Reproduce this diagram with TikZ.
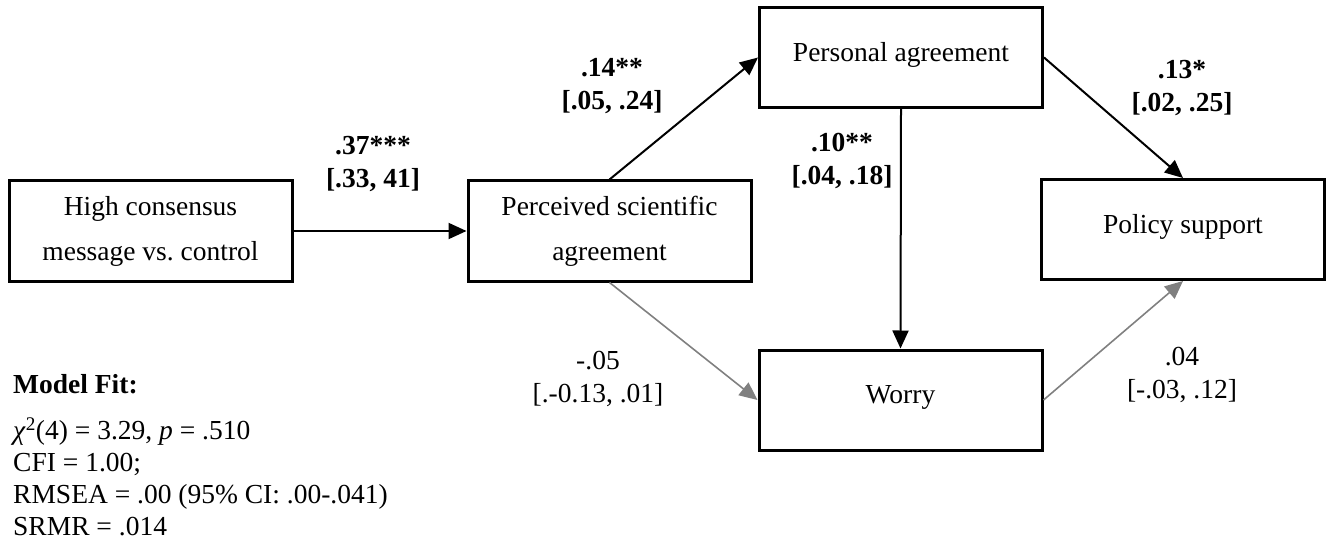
\documentclass[tikz,border=0pt]{standalone}
\usepackage{fontspec}
\setmainfont{Liberation Serif}
\usetikzlibrary{arrows.meta}
\definecolor{linegray}{RGB}{128,128,128}
\tikzset{
  box/.style={draw=black, line width=3pt, minimum width=283pt, minimum height=100pt, inner sep=0pt, align=center, font=\fontsize{27.5}{45}\selectfont},
  arr/.style={line width=2pt, draw=black, -{Triangle[length=18pt,width=16pt]}},
  garr/.style={line width=1.6pt, draw=linegray, -{Triangle[length=18pt,width=16pt]}},
  coef/.style={inner sep=0pt, align=center, anchor=base, font=\fontsize{27.5}{33}\selectfont\bfseries},
  ncoef/.style={inner sep=0pt, align=center, anchor=base, font=\fontsize{27.5}{33}\selectfont},
  fit/.style={inner sep=0pt, align=left, anchor=base west, font=\fontsize{27.5}{31.7}\selectfont},
}
\frenchspacing
\begin{document}
\begin{tikzpicture}[x=1pt,y=-1pt]
\useasboundingbox (0,0) rectangle (1327,540);
% boxes
\node[box] (hc) at (150.5,231) {High consensus\\message vs. control};
\node[box] (psa) at (609.5,231) {Perceived scientific\\agreement};
\node[box] (pa) at (901,57.5) {\raisebox{12pt}{Personal agreement}};
\node[box] (ps) at (1183,229.5) {\raisebox{12pt}{Policy support}};
\node[box] (wo) at (900.5,400) {\raisebox{12pt}{Worry}};
% connectors
\draw[arr] (hc.east) -- (psa.west);
\draw[arr] (psa.north) -- (pa.west);
\draw[arr] (pa.east) -- (ps.north);
\draw[arr] (pa.south) -- (wo.north);
\draw[garr] (psa.south) -- (wo.west);
\draw[garr] (wo.east) -- (ps.south);
% coefficients
\node[coef] (c1) at (373,188) {.37***\\{[.33, 41]}};
\node[coef] (c2) at (612,110) {.14**\\{[.05, .24]}};
\node[coef] (c3) at (842,185) {.10**\\{[.04, .18]}};
\node[coef] (c4) at (1182,112) {.13*\\{[.02, .25]}};
\node[ncoef] (c5) at (598,402) {-.05\\{[.-0.13, .01]}};
\node[ncoef] (c6) at (1182,398) {.04\\{[-.03, .12]}};
% model fit
\node[fit, font=\fontsize{27.5}{31.7}\selectfont\bfseries] (mft) at (13,393) {Model Fit:};
\node[fit] (mf) at (13,535) {\textit{χ}\textsuperscript{2}(4) = 3.29, \textit{p} = .510\\CFI = 1.00;\\RMSEA = .00 (95\% CI: .00-.041)\\SRMR = .014};
\end{tikzpicture}
\end{document}
